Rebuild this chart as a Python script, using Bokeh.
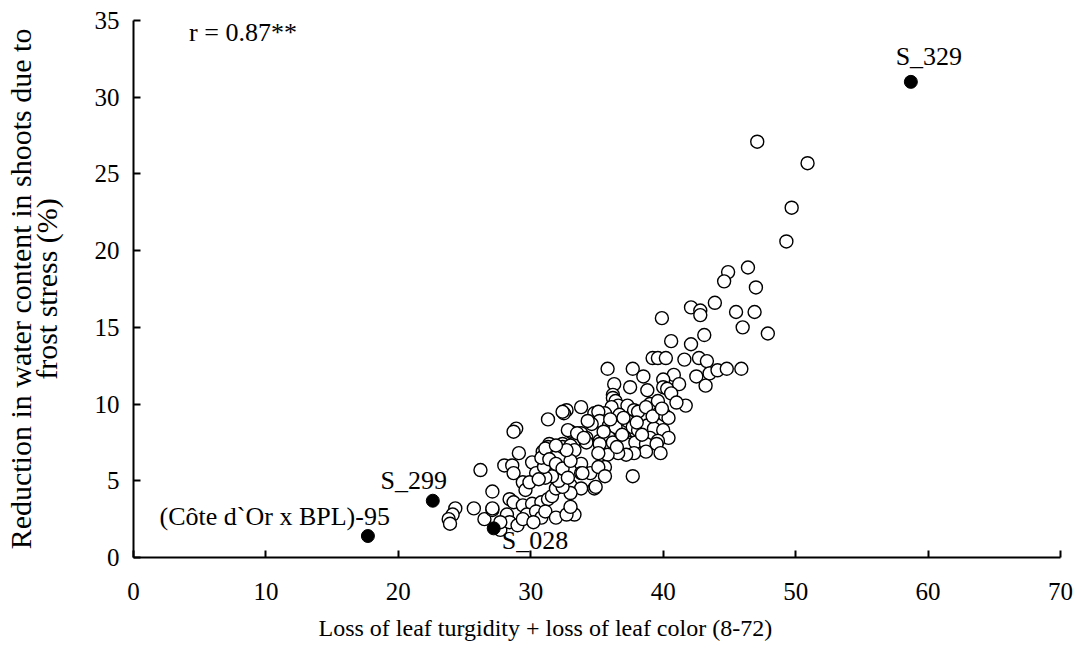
from bokeh.plotting import figure
from bokeh.models import Range1d, FixedTicker, ColumnDataSource, Title
from bokeh.embed import file_html
from bokeh.resources import INLINE
from bokeh.core.properties import value

# ---------------- data ----------------
genotype_x = [
    47.1, 50.9, 49.7, 49.3, 46.4, 44.9, 44.6, 47.0, 43.9, 42.1, 42.8, 42.8, 39.9, 45.5, 46.9, 46.0, 47.9, 43.1, 40.6, 42.1,
    39.2, 39.6, 40.2, 41.6, 42.7, 43.3,
    35.8, 37.7, 38.5, 40.8, 42.5, 43.5, 44.1, 44.8, 45.9,
    36.3, 37.5, 38.8, 40.0, 40.0, 40.3, 41.2, 40.6, 43.2, 36.2, 41.7,
    33.8, 36.2, 36.4, 36.6, 36.1, 37.3, 37.8, 39.0, 39.6, 40.1, 40.4, 32.7, 32.5, 34.8, 35.6, 35.1, 36.7, 37.3, 38.3, 38.7, 38.1, 38.7,
    35.2, 35.9, 36.4, 37.7, 38.1, 38.8, 39.3, 40.0, 40.4, 33.0, 33.8, 34.2, 35.2, 35.9, 37.1, 37.4, 39.0, 39.6,
    33.2, 34.2, 35.2, 36.2, 37.2, 37.9, 38.7, 39.5, 39.8, 38.7, 37.8, 37.2, 36.6, 35.8, 35.1,
    33.8, 35.6, 33.8, 34.5, 37.7, 33.0, 33.8, 34.8, 34.9, 33.0, 33.0, 33.3, 35.1, 35.6, 33.9,
    28.9, 28.7, 31.3, 32.4, 32.8, 31.4, 32.4, 33.5, 34.0, 31.3, 30.9, 32.4, 33.0, 33.3, 29.1,
    26.2, 27.1, 25.7, 26.5, 27.1, 27.7, 28.2, 28.4, 29.0, 28.0, 28.6, 28.7, 29.4, 29.6, 30.1, 30.4, 29.9,
    28.4, 28.7, 29.4, 30.1, 30.8, 31.3, 31.6, 31.9, 32.4, 32.1, 31.6, 31.1, 30.6, 31.0, 30.8, 31.1, 31.4, 31.9, 32.4, 32.8, 33.0, 32.7, 31.9,
    29.7, 30.4, 30.8, 31.1, 31.9, 32.7, 33.0, 29.4, 30.2,
    24.3, 24.1, 23.8, 23.9, 27.7, 27.1,
    36.9, 38.4, 39.2, 34.6, 36.0, 37.0, 35.5, 34.3, 38.0, 36.5, 39.9, 41.0,
]
genotype_y = [
    27.1, 25.7, 22.8, 20.6, 18.9, 18.6, 18.0, 17.6, 16.6, 16.3, 16.1, 15.8, 15.6, 16.0, 16.0, 15.0, 14.6, 14.5, 14.1, 13.9,
    13.0, 13.0, 13.0, 12.9, 13.0, 12.8,
    12.3, 12.3, 11.8, 11.9, 11.8, 12.0, 12.2, 12.3, 12.3,
    11.3, 11.1, 10.9, 11.6, 11.1, 11.0, 11.3, 10.7, 11.2, 10.6, 9.9,
    9.8, 10.4, 10.2, 9.9, 9.8, 9.9, 9.6, 10.0, 10.2, 9.3, 9.1, 9.6, 9.4, 9.4, 9.4, 9.5, 9.3, 8.9, 9.5, 9.0, 9.5, 9.8,
    8.9, 8.6, 8.5, 8.5, 8.3, 8.6, 8.4, 8.3, 7.8, 8.2, 8.1, 7.8, 7.6, 7.8, 7.8, 7.5, 7.8, 7.6,
    7.4, 7.5, 7.4, 7.5, 7.4, 7.5, 7.4, 7.4, 6.8, 6.9, 6.8, 6.7, 6.8, 6.7, 6.8,
    6.1, 5.9, 5.5, 5.5, 5.3, 4.7, 4.5, 4.5, 4.6, 4.2, 3.0, 2.8, 5.9, 5.3, 5.5,
    8.4, 8.2, 9.0, 9.5, 8.3, 7.4, 7.4, 8.1, 7.8, 7.2, 6.9, 7.2, 7.3, 7.0, 6.8,
    5.7, 4.3, 3.2, 2.5, 3.1, 1.8, 2.8, 2.3, 2.1, 6.0, 6.0, 5.5, 4.9, 4.4, 6.2, 5.5, 4.9,
    3.8, 3.6, 3.4, 3.5, 3.6, 3.8, 4.0, 4.5, 4.6, 5.0, 5.3, 5.2, 5.1, 5.9, 6.5, 7.1, 6.4, 6.1, 5.8, 5.2, 6.3, 7.0, 7.3,
    2.8, 3.0, 2.6, 3.0, 2.6, 2.8, 3.3, 2.5, 2.3,
    3.2, 2.8, 2.5, 2.2, 2.3, 3.2,
    8.0, 8.0, 9.2, 8.7, 9.0, 9.1, 8.2, 8.9, 8.8, 7.2, 9.7, 10.1,
]

highlight_names = ["S_329", "S_299", "(Côte d`Or x BPL)-95", "S_028"]
highlight_x = [58.7, 22.6, 17.7, 27.2]
highlight_y = [31.0, 3.7, 1.4, 1.9]

x_ticks = [0, 10, 20, 30, 40, 50, 60, 70]
y_ticks = [0, 5, 10, 15, 20, 25, 30, 35]

x_title = "Loss of leaf turgidity + loss of leaf color (8-72)"
y_title = "Reduction in water content in shoots due to\nfrost stress (%)"
r_text = "r = 0.87**"

# label placement (styles, screen pixels)
label_align = ["center", "center", "right", "left"]
label_dx = [18, -19, 22, 8]
label_dy = [-25, -20, -20, 12]

FONT = "Liberation Serif"

p = figure(width=1079, height=652, output_backend="svg", toolbar_location=None,
           x_range=Range1d(0, 70), y_range=Range1d(0, 35),
           min_border_left=133, min_border_right=19, min_border_top=20, min_border_bottom=95)
p.outline_line_color = None
p.grid.visible = False
p.background_fill_color = "white"
p.border_fill_color = "white"

for ax, ticks in ((p.xaxis, x_ticks), (p.yaxis, y_ticks)):
    ax.ticker = FixedTicker(ticks=ticks)
    ax.axis_line_width = 2
    ax.axis_line_color = "black"
    ax.major_tick_line_width = 2
    ax.major_tick_line_color = "black"
    ax.major_tick_in = 7
    ax.major_tick_out = 0
    ax.minor_tick_line_color = None
    ax.major_label_text_font = FONT
    ax.major_label_text_font_size = "25px"
    ax.major_label_text_color = "black"

p.xaxis.major_label_standoff = 25
p.yaxis.major_label_standoff = 14

# y title: two lines, tight line height
p.yaxis.axis_label = y_title
p.yaxis.axis_label_text_font = FONT
p.yaxis.axis_label_text_font_size = "30px"
p.yaxis.axis_label_text_font_style = "normal"
p.yaxis.axis_label_text_color = "black"
p.yaxis.axis_label_text_line_height = 0.78
p.yaxis.axis_label_standoff = 29

# x title, shifted left like the reference
p.add_layout(Title(text=x_title, align="left", offset=185, standoff=20,
                   text_font=FONT, text_font_size="24px", text_font_style="normal",
                   text_color="black"), "below")

src = ColumnDataSource(dict(x=genotype_x, y=genotype_y))
p.scatter("x", "y", source=src, size=13, fill_color="white", line_color="black", line_width=1.4)

hsrc = ColumnDataSource(dict(x=highlight_x, y=highlight_y))
p.scatter("x", "y", source=hsrc, size=13, fill_color="black", line_color="black", line_width=1)

for i, name in enumerate(highlight_names):
    s = ColumnDataSource(dict(x=[highlight_x[i]], y=[highlight_y[i]], t=[name]))
    p.text("x", "y", text="t", source=s, x_offset=label_dx[i], y_offset=label_dy[i],
           text_align=label_align[i], text_baseline="middle",
           text_font=value(FONT), text_font_size="26px", text_color="black")

rs = ColumnDataSource(dict(x=[4.2], y=[34.2], t=[r_text]))
p.text("x", "y", text="t", source=rs, text_align="left", text_baseline="middle",
       text_font=value(FONT), text_font_size="26px", text_color="black")

open("out.html", "w").write(file_html(p, INLINE))
